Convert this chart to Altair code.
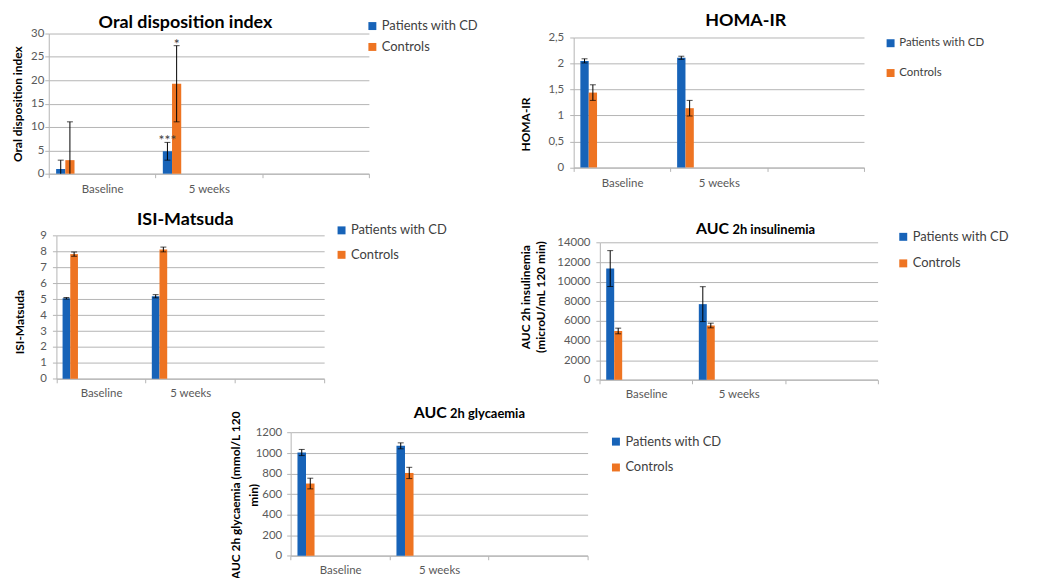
import altair as alt
import pandas as pd

# ---------------- data ----------------
categories = ["Baseline", "5 weeks"]
groups = ["Patients with CD", "Controls"]
colors = ["#1763B8", "#EE7422"]

# Oral disposition index
odi_patients = [1.0, 4.8]
odi_patients_err = [1.9, 1.9]
odi_controls = [2.9, 19.25]
odi_controls_err = [8.2, 8.15]
odi_sig_patients = ["", "***"]
odi_sig_controls = ["", "*"]
odi_ticks = [0, 5, 10, 15, 20, 25, 30]

# HOMA-IR
homa_patients = [2.05, 2.11]
homa_patients_err = [0.04, 0.03]
homa_controls = [1.44, 1.14]
homa_controls_err = [0.15, 0.15]
homa_ticks = [0, 0.5, 1, 1.5, 2, 2.5]

# ISI-Matsuda
isi_patients = [5.06, 5.19]
isi_patients_err = [0.05, 0.1]
isi_controls = [7.84, 8.13]
isi_controls_err = [0.13, 0.15]
isi_ticks = [0, 1, 2, 3, 4, 5, 6, 7, 8, 9]

# AUC 2h insulinemia
ins_patients = [11350, 7720]
ins_patients_err = [1830, 1780]
ins_controls = [4980, 5540]
ins_controls_err = [290, 240]
ins_ticks = [0, 2000, 4000, 6000, 8000, 10000, 12000, 14000]

# AUC 2h glycaemia
gly_patients = [1005, 1070]
gly_patients_err = [30, 29]
gly_controls = [703, 806]
gly_controls_err = [52, 55]
gly_ticks = [0, 200, 400, 600, 800, 1000, 1200]

# ---------------- layout / style ----------------
W, H = 1030, 570
FONT = "Lato"
GRID = "#b4b4b4"
LABEL = "#595959"
PAD_SLOTS = ["_pad%d" % i for i in range(8)]


def make_panel(vals_p, err_p, vals_c, err_c, ticks, g, sig_p=None, sig_c=None):
    rows, caps_lo, stars = [], [], []
    for grp, vals, errs, sig in ((groups[0], vals_p, err_p, sig_p), (groups[1], vals_c, err_c, sig_c)):
        for i, (cat, v, e) in enumerate(zip(categories, vals, errs)):
            lo = v - e
            rows.append(dict(cat=cat, group=grp, value=v, low=max(lo, 0), high=v + e))
            if lo > 0:
                caps_lo.append(dict(cat=cat, group=grp, value=lo))
            if sig is not None and sig[i]:
                stars.append(dict(cat=cat, group=grp, value=v + e, txt=sig[i]))
    df = pd.DataFrame(rows)

    x0, x1 = g["x"]
    yb, yt = g["y"]
    x_enc = alt.X(
        "cat:N",
        scale=alt.Scale(domain=categories + [" "], range=[x0, x1], paddingInner=0, paddingOuter=0),
        axis=alt.Axis(
            orient="bottom", offset=yb - H, title=None, grid=False, tickBand="extent",
            tickSize=4, labelPadding=g.get("xpad", 5), labelAngle=0, labelFontSize=11.5,
            labelColor=LABEL, domainColor=GRID, tickColor=GRID, labelFont=FONT,
        ),
    )
    xo_enc = alt.XOffset(
        "group:N",
        scale=alt.Scale(domain=groups + PAD_SLOTS, paddingInner=0, paddingOuter=0.8),
    )
    lab_expr = "replace(toString(datum.value), '.', ',')"

    def y_enc(field):
        return alt.Y(
            field + ":Q",
            scale=alt.Scale(domain=[ticks[0], ticks[-1]], range=[yb, yt], nice=False, zero=True),
            axis=alt.Axis(
                orient="left", offset=-x0, values=ticks, grid=True, gridColor=GRID,
                domainColor=GRID, tickColor=GRID, tickSize=4, labelPadding=g["ypad"],
                labelFontSize=11.5, labelColor=LABEL, labelFont=FONT, labelExpr=lab_expr,
                title=g["ytitle"], titleX=g["ytx"], titleY=g["yty"], titleAngle=270,
                titleAlign="center", titleBaseline="middle", titleFontSize=12,
                titleFontWeight="bold", titleColor="#000000", titleFont=FONT,
                titleLineHeight=g.get("lh", 15),
            ),
        )

    color_enc = alt.Color(
        "group:N",
        scale=alt.Scale(domain=groups, range=colors),
        legend=alt.Legend(
            orient="none", legendX=g["leg"][0], legendY=g["leg"][1], title=None,
            symbolType="square", symbolSize=64, symbolStrokeWidth=0,
            labelFontSize=g.get("legfs", 13), labelColor="#404040", labelFont=FONT,
            rowPadding=g["legrow"], padding=0, labelOffset=3,
        ),
    )

    base = alt.Chart(df)
    bars = base.mark_bar().encode(x=x_enc, xOffset=xo_enc, y=y_enc("value"), color=color_enc)
    rule = base.mark_rule(color="#000000", strokeWidth=1).encode(
        x=x_enc, xOffset=xo_enc, y=y_enc("low"), y2="high:Q")
    cap_hi = base.mark_tick(color="#000000", thickness=1, size=6, orient="horizontal").encode(
        x=x_enc, xOffset=xo_enc, y=y_enc("high"))
    layers = [bars, rule, cap_hi]
    if caps_lo:
        layers.append(alt.Chart(pd.DataFrame(caps_lo)).mark_tick(
            color="#000000", thickness=1, size=6, orient="horizontal").encode(
            x=x_enc, xOffset=xo_enc, y=y_enc("value")))
    if stars:
        layers.append(alt.Chart(pd.DataFrame(stars)).mark_text(
            baseline="alphabetic", fontSize=14, color="#404040", font=FONT, dy=3).encode(
            x=x_enc, xOffset=xo_enc, y=y_enc("value"), text="txt:N"))
    for t in g["titles"]:
        layers.append(alt.Chart(pd.DataFrame({"t": [t["text"]]})).mark_text(
            font=FONT, fontWeight="bold", fontSize=t["size"], align=t["align"],
            baseline="alphabetic", color="#000000").encode(
            text="t:N", x=alt.value(t["x"]), y=alt.value(t["y"])))
    return alt.layer(*layers)


p1 = make_panel(odi_patients, odi_patients_err, odi_controls, odi_controls_err, odi_ticks, dict(
    x=(41, 363), y=(165, 24), ypad=1, ytitle="Oral disposition index", ytx=-31, yty=94.5,
    leg=(360, 10), legrow=7, xpad=6,
    titles=[dict(text="Oral disposition index", size=18, align="center", x=178.5, y=18.7)],
), odi_sig_patients, odi_sig_controls)

p2 = make_panel(homa_patients, homa_patients_err, homa_controls, homa_controls_err, homa_ticks, dict(
    x=(569, 861), y=(158.7, 28), ypad=6, ytitle="HOMA-IR", ytx=-48, yty=115,
    leg=(882, 28), legrow=17, legfs=11.5, xpad=6,
    titles=[dict(text="HOMA-IR", size=18, align="center", x=742, y=16)],
))

p3 = make_panel(isi_patients, isi_patients_err, isi_controls, isi_controls_err, isi_ticks, dict(
    x=(48.7, 318), y=(371.3, 227.3), ypad=6, ytitle="ISI-Matsuda", ytx=-37.4, yty=313.7,
    leg=(329, 215.5), legrow=10.6,
    titles=[dict(text="ISI-Matsuda", size=18, align="center", x=178.3, y=217)],
))

p4 = make_panel(ins_patients, ins_patients_err, ins_controls, ins_controls_err, ins_ticks, dict(
    x=(595.3, 874.7), y=(372.3, 234.3), ypad=6,
    ytitle=["AUC 2h insulinemia", "(microU/mL 120 min)"], ytx=-75, yty=288.7, lh=15,
    leg=(894, 222), legrow=12.7,
    titles=[dict(text="AUC", size=16, align="right", x=725.3, y=225.3),
            dict(text="2h insulinemia", size=13, align="left", x=728.7, y=225.3)],
))

p5 = make_panel(gly_patients, gly_patients_err, gly_controls, gly_controls_err, gly_ticks, dict(
    x=(284.3, 583), y=(549.3, 425.3), ypad=5,
    ytitle=["AUC 2h glycaemia (mmol/L 120", "min)"], ytx=-55.6, yty=488, lh=18,
    leg=(605, 428), legrow=12,
    titles=[dict(text="AUC", size=16, align="right", x=441.3, y=410.3),
            dict(text="2h glycaemia", size=13, align="left", x=444.7, y=410.3)],
))

chart = alt.layer(p1, p2, p3, p4, p5).resolve_scale(
    x="independent", y="independent", xOffset="independent", color="independent"
).properties(
    width=W, height=H, padding=0, autosize=alt.AutoSizeParams(type="none")
).configure(font=FONT).configure_view(stroke="transparent")

chart.save("out.html", embed_options={"renderer": "svg", "actions": False})
